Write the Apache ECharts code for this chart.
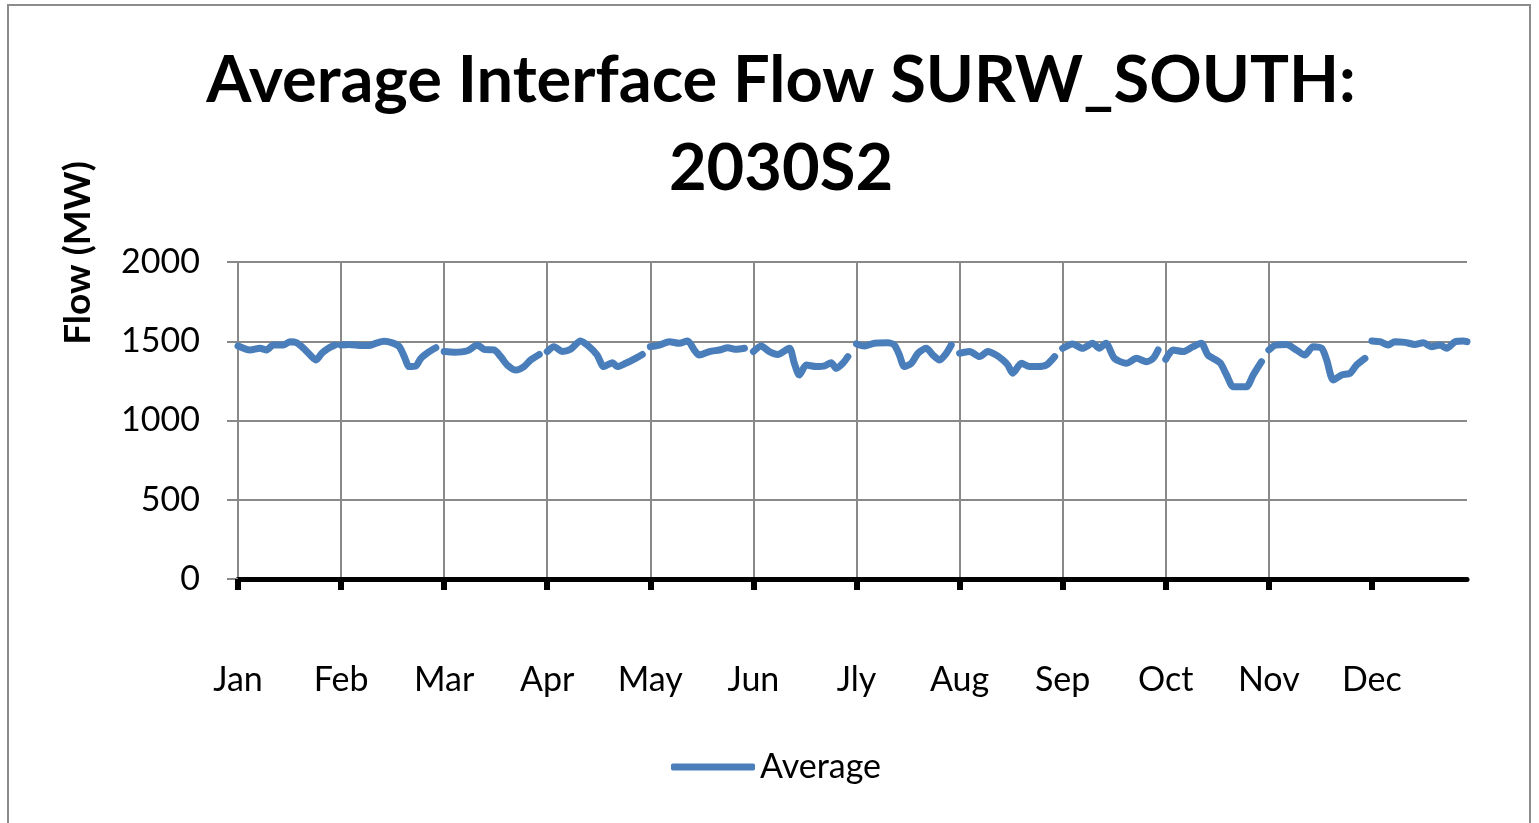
<!DOCTYPE html>
<html>
<head>
<meta charset="utf-8">
<title>Average Interface Flow SURW_SOUTH: 2030S2</title>
<script src="https://cdn.jsdelivr.net/npm/echarts@6/dist/echarts.min.js"></script>
<style>
  html, body { margin: 0; padding: 0; background: #ffffff; }
  #chart { width: 1539px; height: 823px; }
</style>
</head>
<body>
<div id="chart"></div>
<script>
// Month tick labels along the x axis
const MONTHS = ['Jan', 'Feb', 'Mar', 'Apr', 'May', 'Jun', 'Jly', 'Aug', 'Sep', 'Oct', 'Nov', 'Dec'];

// Y axis ticks (MW)
const Y_TICKS = [0, 500, 1000, 1500, 2000];

// Average flow per month: [day slot within month, MW]
const flowJan = [[0,1470],[3.6,1445],[6.6,1456],[8.6,1445],[10.6,1476],[13.6,1476],[15.7,1497],[17.7,1490],[19.7,1456],[21.7,1413],[23.5,1382],[25.2,1424],[27.2,1456],[29.2,1476]];
const flowFeb = [[0,1476],[2.4,1480],[6.4,1473],[8.4,1473],[10.4,1487],[12.9,1500],[15.4,1490],[17.5,1466],[19,1403],[20.5,1340],[22.5,1344],[24,1392],[26.5,1434],[28.5,1459]];
const flowMar = [[0,1435],[3,1431],[7,1440],[10,1476],[12,1449],[15,1445],[17,1403],[19,1350],[21.6,1318],[24,1340],[26,1382],[28.6,1417]];
const flowApr = [[0,1435],[2,1466],[4.6,1435],[7,1449],[10,1502],[12.6,1466],[15,1413],[17,1340],[19.6,1365],[21,1340],[23.6,1361],[26,1386],[28.6,1417]];
const flowMay = [[0,1466],[2.7,1476],[5.7,1497],[8.7,1487],[11.2,1502],[13.2,1445],[14.7,1413],[17.8,1435],[20.8,1445],[23.3,1459],[25.8,1449],[28.3,1456]];
const flowJun = [[0,1435],[2.3,1470],[4.8,1435],[7.3,1417],[10.8,1456],[12.3,1361],[13.8,1287],[15.9,1350],[18.9,1340],[21.4,1344],[23.4,1365],[24.9,1329],[26.9,1361],[28.4,1403]];
const flowJul = [[0,1483],[2.4,1470],[5.4,1487],[9.4,1490],[11.4,1476],[12.9,1413],[14.4,1340],[16.5,1361],[18.5,1424],[21,1456],[23,1413],[25,1382],[27,1424],[28.5,1476]];
const flowAug = [[0,1424],[3,1435],[6,1403],[8.5,1435],[11,1413],[13,1382],[14.5,1350],[16,1298],[18.6,1361],[21,1340],[23.6,1340],[26.1,1350],[28.6,1403]];
const flowSep = [[0,1456],[3,1483],[6,1456],[9,1487],[11,1456],[13,1487],[15.6,1392],[19.2,1361],[22.2,1392],[25.2,1371],[27.2,1392],[28.7,1445]];
const flowOct = [[0,1386],[2.2,1445],[5.2,1435],[8.2,1466],[10.7,1487],[12.7,1413],[16.3,1365],[18.3,1287],[20.3,1213],[22.8,1213],[24.3,1213],[26.3,1287],[28.8,1371]];
const flowNov = [[0,1445],[2,1476],[5.3,1480],[8.3,1445],[10.8,1413],[13.3,1466],[15.9,1456],[17.4,1382],[19.4,1256],[21.9,1287],[24.4,1298],[26.4,1350],[28.9,1392]];
const flowDec = [[0,1502],[2.4,1497],[4.9,1476],[6.9,1497],[9.9,1493],[12.9,1480],[15.4,1490],[17.9,1466],[20.5,1476],[22.5,1456],[25,1497],[27.5,1502],[28.6,1497]];

const MONTHLY_FLOW = [flowJan, flowFeb, flowMar, flowApr, flowMay, flowJun,
                      flowJul, flowAug, flowSep, flowOct, flowNov, flowDec];

// Each month occupies one unit on the x axis, split into 31 day slots
const DAY_SLOTS = 31;
const LAST_DAY_SLOT = 28.6; // the axis stops at the last December slot

// Flatten months into [x, MW] points, with a break between months
const seriesData = [];
MONTHLY_FLOW.forEach((month, m) => {
  month.forEach(([day, mw]) => seriesData.push([m + day / DAY_SLOTS, mw]));
  if (m < MONTHLY_FLOW.length - 1) seriesData.push([m + 0.99, null]);
});

const FONT = 'Lato, "Open Sans", sans-serif';
const GRID_GRAY = '#898989';
const LINE_BLUE = '#4a7ebb';
const monthTicks = MONTHS.map((_, i) => i);

const chart = echarts.init(document.getElementById('chart'), null, { renderer: 'canvas' });

chart.setOption({
  backgroundColor: '#ffffff',
  animation: false,
  title: {
    text: 'Average Interface Flow SURW_SOUTH:\n2030S2',
    left: 776,
    top: 32,
    textAlign: 'center',
    textStyle: {
      fontFamily: FONT,
      fontSize: 65,
      fontWeight: 'bold',
      color: '#000000',
      lineHeight: 88
    }
  },
  legend: {
    left: 666,
    top: 745,
    icon: 'roundRect',
    itemWidth: 84,
    itemHeight: 7,
    data: ['Average'],
    textStyle: { fontFamily: FONT, fontSize: 34, color: '#000000' }
  },
  graphic: [
    {
      type: 'rect',
      shape: { x: 8, y: 5, width: 1522, height: 840 },
      style: { fill: 'none', stroke: '#8c8c8c', lineWidth: 2 },
      z: -1
    },
    {
      type: 'text',
      x: 78,
      y: 253,
      rotation: Math.PI / 2,
      style: {
        text: 'Flow (MW)',
        fontFamily: FONT,
        fontSize: 37,
        fontWeight: 'bold',
        fill: '#000000',
        align: 'center',
        verticalAlign: 'middle'
      }
    }
  ],
  grid: { left: 238, right: 72, top: 262, bottom: 244, containLabel: false },
  xAxis: {
    type: 'value',
    min: 0,
    max: MONTHS.length - 1 + LAST_DAY_SLOT / DAY_SLOTS,
    interval: 1,
    axisLine: { show: true, onZero: false, lineStyle: { color: '#000000', width: 5 } },
    axisTick: {
      show: true,
      customValues: monthTicks,
      length: 11,
      lineStyle: { color: '#000000', width: 6 }
    },
    axisLabel: {
      customValues: monthTicks,
      margin: 84,
      fontFamily: FONT,
      fontSize: 34,
      color: '#000000',
      formatter: v => MONTHS[Math.round(v)] || ''
    },
    splitLine: {
      show: true,
      showMinLine: false,
      showMaxLine: false,
      lineStyle: { color: GRID_GRAY, width: 2 }
    }
  },
  yAxis: {
    type: 'value',
    min: Y_TICKS[0],
    max: Y_TICKS[Y_TICKS.length - 1],
    interval: 500,
    axisLine: { show: true, lineStyle: { color: GRID_GRAY, width: 2 } },
    axisTick: { show: true, length: 11, lineStyle: { color: GRID_GRAY, width: 2 } },
    axisLabel: {
      margin: 38,
      fontFamily: FONT,
      fontSize: 34,
      color: '#000000',
      formatter: v => String(v)
    },
    splitLine: { show: true, lineStyle: { color: GRID_GRAY, width: 2 } }
  },
  series: [
    {
      name: 'Average',
      type: 'line',
      data: seriesData,
      showSymbol: false,
      connectNulls: false,
      smooth: 0.25,
      color: LINE_BLUE,
      lineStyle: { color: LINE_BLUE, width: 7, cap: 'round', join: 'round' },
      z: 3
    }
  ]
});
</script>
</body>
</html>
